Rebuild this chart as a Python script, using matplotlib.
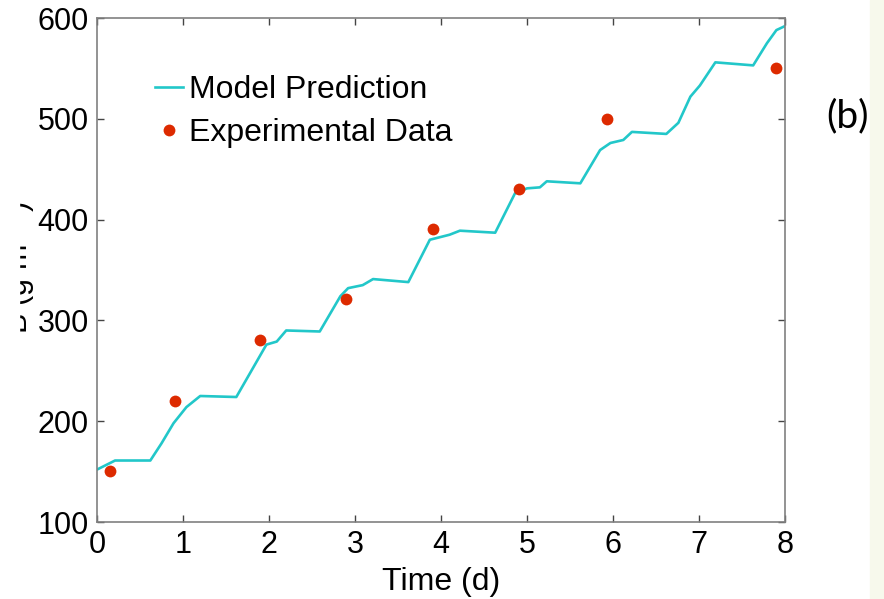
import matplotlib.pyplot as plt
from matplotlib.patches import Rectangle

# model curve
t_model = [0, 0.21, 0.62, 0.75, 0.89, 1.04, 1.2, 1.62, 1.97, 2.09, 2.2, 2.59, 2.83, 2.92,
           3.09, 3.21, 3.62, 3.87, 4.1, 4.22, 4.63, 4.86, 5.0, 5.15, 5.23, 5.62, 5.85,
           5.97, 6.12, 6.22, 6.62, 6.76, 6.9, 7.01, 7.19, 7.63, 7.79, 7.9, 8.0]
b_model = [152, 161, 161, 178, 198, 214, 225, 224, 276, 279, 290, 289, 324, 332,
           335, 341, 338, 380, 385, 389, 387, 426, 431, 432, 438, 436, 469,
           476, 479, 487, 485, 496, 522, 533, 556, 553, 575, 588, 592]

# experimental points
t_exp = [0.15, 0.91, 1.9, 2.9, 3.91, 4.91, 5.93, 7.9]
b_exp = [151, 220, 281, 321, 391, 430, 500, 550]

xticks = [0, 1, 2, 3, 4, 5, 6, 7, 8]
yticks = [100, 200, 300, 400, 500, 600]

plt.rcParams['font.family'] = ['Liberation Sans', 'DejaVu Sans']

fig = plt.figure(figsize=(8.84, 5.99), dpi=100)
W, H = 884, 599
ax = fig.add_axes([97 / W, 1 - 522 / H, 688 / W, 504 / H])

ax.plot(t_model, b_model, color='#22c7c9', lw=1.9, label='Model Prediction')
ax.plot(t_exp, b_exp, 'o', color='#dd2a00', ms=8.5, mec='none', label='Experimental Data')

ax.set_xlim(0, 8)
ax.set_ylim(100, 600)
ax.set_xticks(xticks)
ax.set_yticks(yticks)
ax.tick_params(direction='in', length=5, width=1, top=True, right=True,
               labelsize=22, color='#444444', pad=6)
for s in ax.spines.values():
    s.set_color('#808080')
    s.set_linewidth(1.2)

ax.set_xlabel('Time (d)', fontsize=23, labelpad=5)

leg = ax.legend(loc='upper left', bbox_to_anchor=(0.085, 0.887), frameon=False,
                fontsize=23, handlelength=0.85, handletextpad=0.2, labelspacing=0.42,
                borderpad=0, borderaxespad=0, numpoints=1)

# y label, mostly cut off at the left edge in the original
fig.text(28 / W, 1 - 268 / H, 'B (g m$^{-3}$)', fontsize=22, rotation=90,
         rotation_mode='anchor', ha='center', va='baseline')
fig.patches.append(Rectangle((0, 0), 19 / W, 1, transform=fig.transFigure,
                             color='white', zorder=10))

# panel tag and pale strip on the right
fig.text(848 / W, 1 - 116 / H, '(b)', fontsize=28, family=['Lato', 'DejaVu Sans'],
         ha='center', va='center')
fig.patches.append(Rectangle((870 / W, 0), 14 / W, 1, transform=fig.transFigure,
                             color='#f7f9ec', zorder=0))

fig.savefig('out.png', dpi=100)
